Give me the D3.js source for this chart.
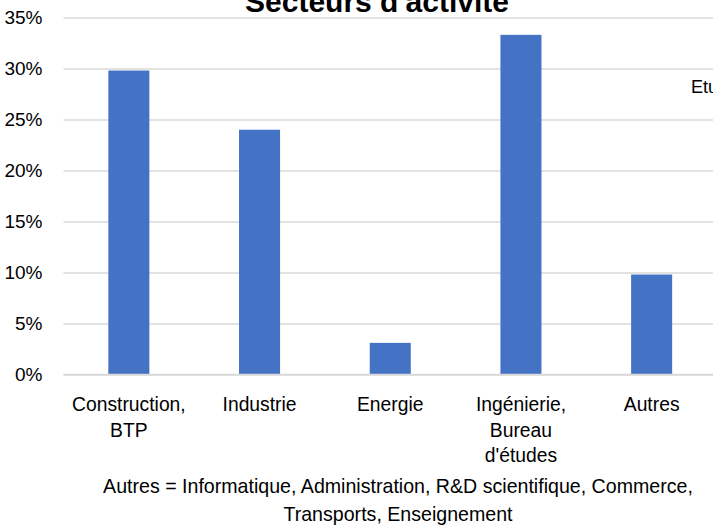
<!DOCTYPE html>
<html lang="fr">
  <head>
    <meta charset="utf-8">
    <title>Secteurs d'activité</title>
    <script src="https://d3js.org/d3.v7.min.js"></script>
    <style>
      body { margin: 0; background: #fff; }
      #chart text { font-family: "Liberation Sans", Arial, sans-serif; fill: #000; }
      .grille line { stroke: #d9d9d9; stroke-width: 1.5; }
      .axeY text { font-size: 19px; }
      .axeX text { font-size: 21px; }
      .note { font-size: 20px; }
    </style>
  </head>
  <body>
    <div id="chart"></div>

    <script>
      // données
      var secteurs = ["Construction, BTP", "Industrie", "Energie", "Ingénierie, Bureau d'études", "Autres"];
      var etiquettes = [["Construction,", "BTP"], ["Industrie"], ["Energie"], ["Ingénierie,", "Bureau", "d'études"], ["Autres"]];
      var parts = [0.298, 0.240, 0.031, 0.333, 0.098];
      var ticksY = [0, 0.05, 0.10, 0.15, 0.20, 0.25, 0.30, 0.35];
      var titre = "Secteurs d'activité";
      var note = ["Autres = Informatique, Administration, R&D scientifique, Commerce,", "Transports, Enseignement"];
      var texteCoupe = "Etudes";

      var larguraSVG = 713, alturaSVG = 527;
      var margin = {top: 17.5, left: 63.5, bottom: 152.5, right: -4};
      var larguraVis = larguraSVG - margin.left - margin.right,
          alturaVis = alturaSVG - margin.top - margin.bottom;

      var svg = d3.select("#chart")
                  .append("svg")
                    .attr("width", larguraSVG)
                    .attr("height", alturaSVG);

      var grafico = svg.append("g")
                       .attr("transform", "translate(" + margin.left + "," + margin.top + ")");

      var x = d3.scaleBand()
                .domain(secteurs)
                .range([0, larguraVis])
                .paddingInner(0.686)
                .paddingOuter(0.343);

      var y = d3.scaleLinear()
                .domain([0, 0.35])
                .range([alturaVis, 0]);

      // grille + étiquettes en %
      grafico.append("g")
        .attr("class", "grille axeY")
        .call(d3.axisLeft(y)
                .tickValues(ticksY)
                .tickSize(-(larguraSVG - margin.left))
                .tickPadding(21)
                .tickFormat(d3.format(".0%")))
        .call(g => g.select(".domain").remove());

      grafico.selectAll("rect.barre")
        .data(parts)
        .enter()
        .append("rect")
          .attr("class", "barre")
          .attr("x", (d, i) => x(secteurs[i]))
          .attr("width", x.bandwidth())
          .attr("y", d => y(d))
          .attr("height", d => alturaVis - y(d))
          .attr("fill", "#4472c4");

      // ligne du zéro par-dessus les barres
      grafico.append("line")
        .attr("x1", 0).attr("x2", larguraSVG - margin.left)
        .attr("y1", y(0)).attr("y2", y(0))
        .attr("stroke", "#d9d9d9")
        .attr("stroke-width", 1.5);

      // étiquettes des catégories sur plusieurs lignes (police un peu étroite)
      var axeX = grafico.append("g")
        .attr("class", "axeX")
        .attr("transform", "translate(0," + alturaVis + ")")
        .call(d3.axisBottom(x).tickSize(0).tickFormat(""))
        .call(g => g.select(".domain").remove());

      axeX.selectAll(".tick text")
        .attr("y", 0)
        .attr("dy", null)
        .attr("transform", "scale(0.92,1)")
        .each(function(d, i) {
          var t = d3.select(this);
          etiquettes[i].forEach((ligne, k) => {
            t.append("tspan")
              .attr("x", 0)
              .attr("y", 37 + k * 25.5)
              .text(ligne);
          });
        });

      // titre (coupé en haut)
      svg.append("text")
        .attr("x", 377)
        .attr("y", 12)
        .attr("text-anchor", "middle")
        .style("font-size", "30px")
        .style("font-weight", "bold")
        .text(titre);

      // morceau de texte d'un autre graphique, coupé à droite
      svg.append("text")
        .attr("x", 691)
        .attr("y", 93)
        .style("font-size", "18px")
        .text(texteCoupe);

      svg.selectAll("text.note")
        .data(note)
        .enter()
        .append("text")
          .attr("class", "note")
          .attr("transform", (d, i) => "translate(398," + (493 + i * 27.5) + ") scale(0.98,1)")
          .attr("text-anchor", "middle")
          .text(d => d);
    </script>
  </body>
</html>
